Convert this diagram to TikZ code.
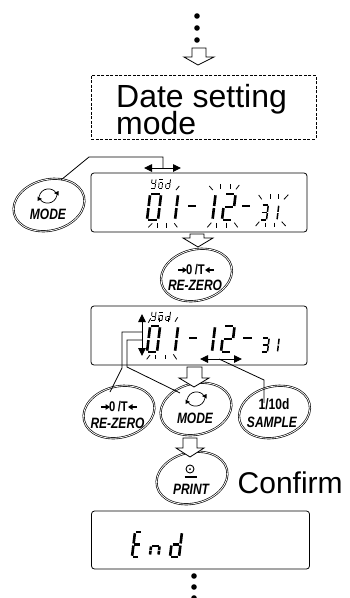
\documentclass[tikz,border=0pt]{standalone}
\usepackage{fontspec}
\usetikzlibrary{shapes.geometric,arrows.meta}
\setmainfont{Liberation Sans}
\newfontfamily\keyfont[FakeStretch=0.8]{Liberation Sans}
\def\SA{.12/1/.88/1}\def\SB{1/.95/1/.54}\def\SC{1/.46/1/.05}\def\SD{.12/0/.88/0}
\def\SE{0/.46/0/.05}\def\SF{0/.95/0/.54}\def\SG{.12/.5/.88/.5}
\edef\dzero{\SA,\SB,\SC,\SD,\SE,\SF}
\edef\dtwo{\SA,\SB,\SG,\SE,\SD}
\edef\dthree{\SA,\SB,\SG,\SC,\SD}
\edef\dE{\SA,\SF,\SG,\SE,\SD}
\edef\dn{\SA,\SE,\SF,\SB,\SC}
\edef\dd{\SG,\SB,\SC,\SD,\SE}
\edef\dy{\SF,\SG,\SB,\SC,\SD}
\edef\dm{\SG,\SB,\SF,\SC,\SE}
\def\done{0/.95/0/.54,0/.46/0/.05}
\newcommand{\sevseg}[6][2.6pt]{%
  \begin{scope}[shift={(#2,#3)},x=#4pt,y=#5pt,xslant=.12,line width=#1]
    \foreach \xa/\ya/\xb/\yb in #6 {\draw (\xa,\ya) -- (\xb,\yb);}
  \end{scope}}
\newcommand{\ymd}[2]{%
  \sevseg[.8pt]{#1}{#2}{4}{9}{\dy}
  \sevseg[.8pt]{#1+7.5}{#2}{3.5}{5.5}{\dzero}
  \draw[line width=.8pt] (#1+8,#2-8.5) -- (#1+11.5,#2-8.5);
  \sevseg[.8pt]{#1+14.5}{#2}{4}{9}{\dd}}
\newcommand{\rays}[1]{\foreach \ax/\ay/\bx/\by in {#1}{\draw[line width=.8pt] (\ax,\ay) -- (\bx,\by);}}
\newcommand{\keytext}[3]{\node[anchor=base,inner sep=0pt,font=\keyfont\fontsize{15}{15}\selectfont\bfseries\itshape] at (#1,#2) {#3};}
\newcommand{\cycleicon}[2]{%
  \begin{scope}[shift={(#1,#2)}]
    \draw[line width=.7pt] (-9,1) .. controls (-7,-9) and (5,-9) .. (8,-3);
    \draw[line width=.7pt] (9,-1) .. controls (7,9) and (-5,9) .. (-8,3);
    \fill (6,-3) -- (10.5,-5) -- (10.5,-.5) -- cycle;
    \fill (-6,3) -- (-10.5,5) -- (-10.5,.5) -- cycle;
  \end{scope}}
\newcommand{\zeroT}[2]{%
  \begin{scope}[shift={(#1,#2)}]
    \draw[line width=1.5pt,-{Triangle[length=4.5pt,width=5.5pt]}] (-18,0) -- (-9,0);
    \draw[line width=1.5pt,-{Triangle[length=4.5pt,width=5.5pt]}] (18,0) -- (9,0);
    \node[inner sep=0pt,font=\keyfont\fontsize{14}{14}\selectfont\bfseries] at (-.5,-.5) {0\,/T};
  \end{scope}}
\tikzset{
  lcdbox/.style={draw,rounded corners=3pt,line width=.8pt},
  keyoval/.style={ellipse,draw,double,double distance=.8pt,line width=.65pt,minimum width=72pt,minimum height=51pt,inner sep=0pt,rotate=14},
  hollowarrow/.style={draw,fill=white,line width=.8pt},
  wire/.style={draw,line width=.8pt},
  dbl/.style={draw,line width=.9pt,{Triangle[length=8pt,width=7.5pt]}-{Triangle[length=8pt,width=7.5pt]}},
  bigtext/.style={anchor=base west,inner sep=0pt}
}
\begin{document}
\begin{tikzpicture}[x=1pt,y=-1pt]
\useasboundingbox (0,0) rectangle (349,598);
% top dots
\foreach \yy in {16,28,40}{\fill (197,\yy) circle (2.8pt);}
\draw[hollowarrow] (192,48) -- (206,48) -- (206,57) -- (214,57) -- (198,65) -- (184,57) -- (192,57) -- cycle;
% dashed box
\node[draw,dash pattern=on 3pt off 1.5pt,line width=.8pt,minimum width=224.5pt,minimum height=63.5pt,inner sep=0pt] (datebox) at (203.7,107.2) {};
\node[bigtext,font=\fontsize{32}{32}\selectfont] (datetext) at (116,107) {Date setting};
\node[bigtext,font=\fontsize{32}{32}\selectfont] (modetext) at (116,134) {mode};
% LCD 1
\node[lcdbox,minimum width=216pt,minimum height=59pt,inner sep=0pt] (lcdA) at (199,202.5) {};
\ymd{151}{188}
\sevseg{147}{220}{11}{26}{\dzero}
\sevseg{175}{220}{1}{26}{\done}
\draw[line width=2.6pt] (188,206) -- (196,206);
\sevseg{212.5}{220}{1}{26}{\done}
\sevseg{222}{220}{10.5}{26}{\dtwo}
\draw[line width=2.6pt] (242,206) -- (250,206);
\sevseg[1.5pt]{260}{220}{6.5}{15}{\dthree}
\sevseg[1.5pt]{277}{220}{1}{15}{\done}
\rays{176/190/179.3/186, 148.3/227.3/152.3/223.3, 157.3/223.3/157.3/228.3, 166.7/223.3/166.7/228.3, 174.3/223.3/177.3/227.3,
 209.3/186/212.7/190, 220.7/184.3/220.7/189, 230/184.3/230/189, 236/189.3/239.3/185,
 207.3/227.3/211.3/222.7, 216.7/223.3/216.7/227.7, 226.7/222.7/226.7/227.7, 234.3/222.7/237.7/227.3,
 258.7/195/261.7/199.3, 270/194/270/198.7, 278.7/194/278.7/198.7, 284/199.3/288.3/194.7,
 255.7/226/259.3/221.7, 265/222.7/265/226.7, 274/222.7/274/226.7, 281.7/221.7/285.7/226}
% key MODE 1
\node[keyoval] (modeA) at (49,205) {};
\cycleicon{48}{196}
\keytext{48}{219}{MODE}
\coordinate (mA1) at (61,180);
\coordinate (mA2) at (89,157);
\coordinate (mA3) at (163,157);
\coordinate (mA4) at (163,168);
\draw[wire] (mA1) -- (mA2) -- (mA3) -- (mA4);
\coordinate (dA1) at (144,168);
\coordinate (dA2) at (181,168);
\draw[dbl] (dA1) -- (dA2);
% key RE-ZERO 1
\node[keyoval] (zeroA) at (196.5,275) {};
\zeroT{196}{270}
\keytext{195}{290}{RE-ZERO}
\draw[hollowarrow,fill=none] (190,234) -- (204,234) -- (204,238) -- (213,238) -- (198,247) -- (183,238) -- (190,238) -- cycle;
% LCD 2
\node[lcdbox,minimum width=216pt,minimum height=59pt,inner sep=0pt] (lcdB) at (199,335.5) {};
\ymd{151}{320.5}
\sevseg{147}{352}{10}{26}{\dzero}
\sevseg{175}{352}{1}{26}{\done}
\draw[line width=2.6pt] (189,338) -- (197,338);
\sevseg{212}{352}{1}{26}{\done}
\sevseg{221}{352}{10.5}{26}{\dtwo}
\draw[line width=2.6pt] (243,338) -- (252,338);
\sevseg[1.5pt]{261}{352}{6.5}{14}{\dthree}
\sevseg[1.5pt]{277.5}{352}{1}{14}{\done}
\rays{148.3/322.7/150.7/318.3, 159.3/318.3/159.3/321.7, 168.3/318.3/168.3/321.7, 175/321.7/177.7/317.3,
 146.7/359.3/150/355, 155.7/355/155.7/359.3, 165/355/165/359.3, 173.3/354.3/176.7/359.3}
\coordinate (vA) at (142,314);
\coordinate (vB) at (142,356);
\draw[dbl] (vA) -- (vB);
\coordinate (hA) at (200,359);
\coordinate (hB) at (242,359);
\draw[dbl] (hA) -- (hB);
% hollow arrow + keys row
\node[keyoval] (zeroB) at (119,412) {};
\node[keyoval] (modeB) at (196,409) {};
\node[keyoval] (sampleB) at (274.5,412) {};
\zeroT{119}{407}
\keytext{117.5}{428}{RE-ZERO}
\cycleicon{196}{399}
\keytext{195}{423}{MODE}
\node[anchor=base,inner sep=0pt,font=\keyfont\fontsize{15}{15}\selectfont\bfseries] (onetenth) at (274,409) {1/10d};
\keytext{272}{427}{SAMPLE}
\coordinate (cA1) at (142,332);
\coordinate (cA2) at (122,332);
\coordinate (cA3) at (122,368);
\coordinate (cA4) at (110,392);
\draw[wire] (cA1) -- (cA2) -- (cA3) -- (cA4);
\coordinate (cB1) at (142,340);
\coordinate (cB2) at (127,340);
\coordinate (cB3) at (127,367);
\coordinate (cB4) at (180,393);
\draw[wire] (cB1) -- (cB2) -- (cB3) -- (cB4);
\coordinate (cC1) at (219,359);
\coordinate (cC2) at (264,380);
\coordinate (cC3) at (264,403);
\draw[wire] (cC1) -- (cC2) -- (cC3);
\draw[hollowarrow] (187,367) -- (202,367) -- (202,378) -- (209,378) -- (194,387) -- (179,378) -- (187,378) -- cycle;
% PRINT
\node[keyoval] (printK) at (192,478) {};
\draw[hollowarrow] (183,438) -- (197,438) -- (197,448) -- (204,448) -- (190,457) -- (176,448) -- (183,448) -- cycle;
\draw[line width=.9pt] (190,469) circle (4pt);
\fill (190,469) circle (1pt);
\draw[line width=1.3pt] (184.5,477) -- (197,477);
\keytext{191}{494}{PRINT}
\node[bigtext,font=\fontsize{30}{30}\selectfont] (confirm) at (237.5,493) {Confirm};
% LCD 3
\node[lcdbox,minimum width=218pt,minimum height=58pt,inner sep=0pt] (lcdC) at (200.5,540) {};
\sevseg{132}{557}{7}{25}{\dE}
\sevseg{150}{555}{8.5}{9}{\dn}
\sevseg{170}{557}{9}{25}{\dd}
% bottom dots
\foreach \yy in {576,587,598}{\fill (194,\yy) circle (2.8pt);}
\end{tikzpicture}
\end{document}
